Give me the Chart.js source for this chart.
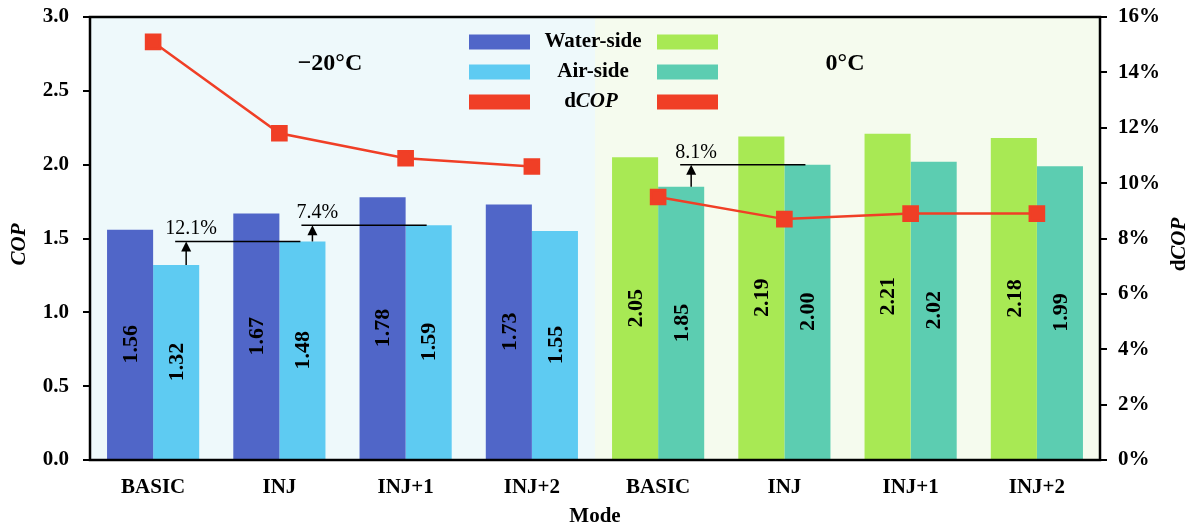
<!DOCTYPE html>
<html>
<head>
<meta charset="utf-8">
<script src="https://cdn.jsdelivr.net/npm/chart.js@4"></script>
<style>
  body { margin: 0; background: #fff; }
  #wrap { width: 1192px; height: 529px; }
</style>
</head>
<body>
<div id="wrap"><canvas id="copChart"></canvas></div>
<script>
// values
const modes = ['BASIC', 'INJ', 'INJ+1', 'INJ+2', 'BASIC', 'INJ', 'INJ+1', 'INJ+2'];
const groups = ['\u221220\u00b0C', '0\u00b0C'];
const waterSide = [1.56, 1.67, 1.78, 1.73, 2.05, 2.19, 2.21, 2.18];
const airSide = [1.32, 1.48, 1.59, 1.55, 1.85, 2.00, 2.02, 1.99];
const dCop = [15.1, 11.8, 10.9, 10.6, 9.5, 8.7, 8.9, 8.9];
const copTicks = [0, 0.5, 1.0, 1.5, 2.0, 2.5, 3.0];
const dCopTicks = [0, 2, 4, 6, 8, 10, 12, 14, 16];
const gainPairs = [[0, 1], [1, 2], [4, 5]];
const gainLabels = ['12.1%', '7.4%', '8.1%'];

const FONT = '"Liberation Serif", "Times New Roman", serif';
const BLUE = '#5066c8', LIGHTBLUE = '#5ecbf2', GREEN = '#a8e954', TEAL = '#5ccdb1', RED = '#f03f26';

const half = modes.length / 2;
const waterColors = modes.map((m, i) => i < half ? BLUE : GREEN);
const airColors = modes.map((m, i) => i < half ? LIGHTBLUE : TEAL);
const dCopLow = dCop.map((v, i) => i < half ? v : null);
const dCopHigh = dCop.map((v, i) => i >= half ? v : null);

// draw "d" upright + "COP" italic
function drawDCop(ctx, x, y, size, prefix) {
    ctx.save();
    ctx.textBaseline = 'middle';
    ctx.font = 'bold ' + size + 'px ' + FONT;
    const w1 = ctx.measureText(prefix).width;
    ctx.font = 'italic bold ' + size + 'px ' + FONT;
    const w2 = ctx.measureText('COP').width;
    let left = x - (w1 + w2) / 2;
    ctx.textAlign = 'left';
    ctx.font = 'bold ' + size + 'px ' + FONT;
    ctx.fillText(prefix, left, y);
    ctx.font = 'italic bold ' + size + 'px ' + FONT;
    ctx.fillText('COP', left + w1, y);
    ctx.restore();
}

const decorPlugin = {
    id: 'decor',
    beforeDatasetsDraw(chart) {
        const ctx = chart.ctx, a = chart.chartArea;
        const mid = (chart.scales.x.getPixelForValue(half - 1) + chart.scales.x.getPixelForValue(half)) / 2;
        ctx.save();
        ctx.fillStyle = '#eef9fb';
        ctx.fillRect(a.left, a.top, mid - a.left, a.bottom - a.top);
        ctx.fillStyle = '#f5fbee';
        ctx.fillRect(mid, a.top, a.right - mid, a.bottom - a.top);
        ctx.restore();
    },
    afterDatasetsDraw(chart) {
        const ctx = chart.ctx, a = chart.chartArea;
        // value labels inside bars
        [0, 1].forEach(di => {
            const meta = chart.getDatasetMeta(di);
            const vals = chart.data.datasets[di].data;
            meta.data.forEach((bar, i) => {
                ctx.save();
                ctx.translate(bar.x, (bar.y + bar.base) / 2);
                ctx.rotate(-Math.PI / 2);
                ctx.font = 'bold 22px ' + FONT;
                ctx.fillStyle = '#000';
                ctx.textAlign = 'center';
                ctx.textBaseline = 'middle';
                ctx.fillText(vals[i].toFixed(2), 0, 1);
                ctx.restore();
            });
        });
        // gain arrows
        const air = chart.getDatasetMeta(1).data;
        gainPairs.forEach((p, k) => {
            const from = air[p[0]], to = air[p[1]];
            const ax = from.x + 10;
            ctx.save();
            ctx.strokeStyle = '#000';
            ctx.fillStyle = '#000';
            ctx.lineWidth = 1.5;
            ctx.beginPath();
            ctx.moveTo(from.x - 1, to.y);
            ctx.lineTo(to.x - 2, to.y);
            ctx.stroke();
            ctx.beginPath();
            ctx.moveTo(ax, from.y);
            ctx.lineTo(ax, to.y + 8);
            ctx.stroke();
            ctx.beginPath();
            ctx.moveTo(ax, to.y);
            ctx.lineTo(ax - 5, to.y + 10);
            ctx.lineTo(ax + 5, to.y + 10);
            ctx.closePath();
            ctx.fill();
            ctx.font = '20px ' + FONT;
            ctx.textAlign = 'center';
            ctx.textBaseline = 'alphabetic';
            ctx.fillText(gainLabels[k], ax + 5, to.y - 7);
            ctx.restore();
        });
    },
    afterDraw(chart) {
        const ctx = chart.ctx, a = chart.chartArea;
        ctx.save();
        ctx.strokeStyle = '#000';
        ctx.lineWidth = 2.5;
        ctx.strokeRect(a.left, a.top, a.right - a.left, a.bottom - a.top);

        // group labels
        ctx.fillStyle = '#000';
        ctx.font = 'bold 24px ' + FONT;
        ctx.textAlign = 'center';
        ctx.textBaseline = 'middle';
        ctx.fillText(groups[0], a.left + 240, a.top + 47);
        ctx.fillText(groups[1], a.left + 755, a.top + 47);

        // legend
        const cx = (a.left + a.right) / 2;
        const rows = [[BLUE, GREEN, 'Water-side'], [LIGHTBLUE, TEAL, 'Air-side'], [RED, RED, null]];
        rows.forEach((r, k) => {
            const y = a.top + 25 + k * 30;
            ctx.fillStyle = r[0];
            ctx.fillRect(cx - 126, y - 7.5, 61, 15);
            ctx.fillStyle = r[1];
            ctx.fillRect(cx + 62, y - 7.5, 61, 15);
            ctx.fillStyle = '#000';
            if (r[2]) {
                ctx.font = 'bold 21px ' + FONT;
                ctx.fillText(r[2], cx - 2, y);
            } else {
                drawDCop(ctx, cx - 4, y, 21, 'd');
            }
        });

        // axis titles
        ctx.save();
        ctx.translate(20, (a.top + a.bottom) / 2 + 6);
        ctx.rotate(-Math.PI / 2);
        drawDCop(ctx, 0, 0, 21, '');
        ctx.restore();
        ctx.save();
        ctx.translate(1180, (a.top + a.bottom) / 2 + 6);
        ctx.rotate(-Math.PI / 2);
        drawDCop(ctx, 0, 0, 21, 'd');
        ctx.restore();
        ctx.font = 'bold 21px ' + FONT;
        ctx.fillText('Mode', cx, 517);
        ctx.restore();
    }
};

const tickFont = { family: FONT, size: 21, weight: 'bold' };

function fixWidth(w) {
    return s => { s.width = w; s.paddingTop = 0; s.paddingBottom = 0; };
}

new Chart(document.getElementById('copChart'), {
    type: 'bar',
    data: {
        labels: modes,
        datasets: [
            { label: 'Water-side', data: waterSide, backgroundColor: waterColors, order: 2, yAxisID: 'y' },
            { label: 'Air-side', data: airSide, backgroundColor: airColors, order: 2, yAxisID: 'y' },
            { type: 'line', label: 'dCOP', data: dCopLow, borderColor: RED, backgroundColor: RED, borderWidth: 2.5,
              pointStyle: 'rect', pointRadius: 10, yAxisID: 'y1', order: 0, spanGaps: false },
            { type: 'line', label: 'dCOP', data: dCopHigh, borderColor: RED, backgroundColor: RED, borderWidth: 2.5,
              pointStyle: 'rect', pointRadius: 10, yAxisID: 'y1', order: 0, spanGaps: false }
        ]
    },
    options: {
        responsive: true,
        maintainAspectRatio: false,
        animation: false,
        layout: { padding: { top: 17, left: 0, right: 0, bottom: 0 } },
        datasets: { bar: { categoryPercentage: 0.73, barPercentage: 1.0 } },
        plugins: { legend: { display: false }, tooltip: { enabled: false } },
        scales: {
            x: {
                grid: { display: false },
                border: { display: false },
                ticks: { color: '#000', font: tickFont, padding: 7, maxRotation: 0, autoSkip: false },
                afterFit: s => { s.height = 69; s.paddingLeft = 0; s.paddingRight = 0; }
            },
            y: {
                position: 'left',
                min: 0, max: 3,
                afterBuildTicks: s => { s.ticks = copTicks.map(v => ({ value: v })); },
                grid: { drawOnChartArea: false, color: '#000', lineWidth: 2, tickLength: 7 },
                border: { display: false },
                ticks: { color: '#000', font: tickFont, padding: 14, callback: v => Number(v).toFixed(1) },
                afterFit: fixWidth(90)
            },
            y1: {
                position: 'right',
                min: 0, max: 16,
                afterBuildTicks: s => { s.ticks = dCopTicks.map(v => ({ value: v })); },
                grid: { drawOnChartArea: false, color: '#000', lineWidth: 2, tickLength: 7 },
                border: { display: false },
                ticks: { color: '#000', font: tickFont, padding: 11, callback: v => v + '%' },
                afterFit: fixWidth(92)
            }
        }
    },
    plugins: [decorPlugin]
});
</script>
</body>
</html>
